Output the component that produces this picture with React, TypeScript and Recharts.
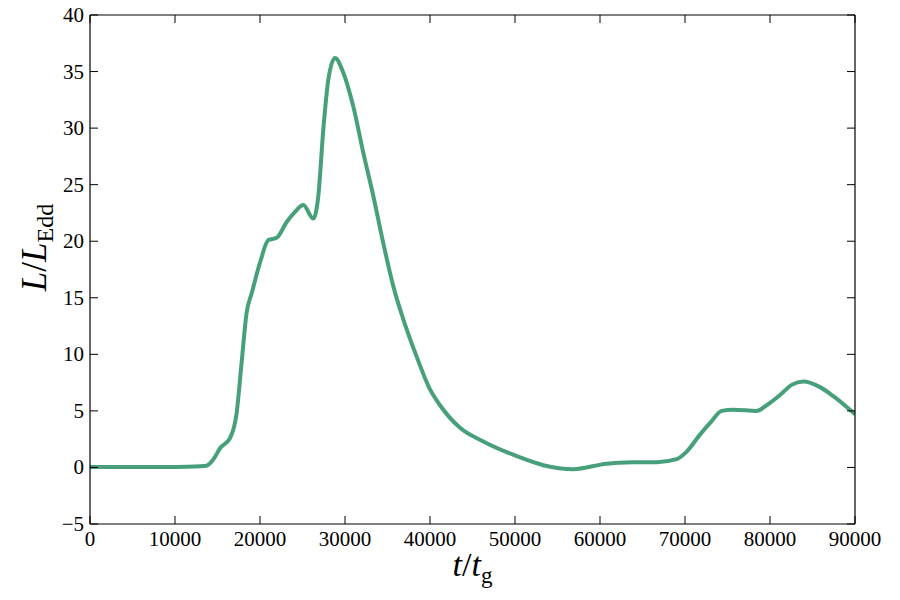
import React from 'react';
import { LineChart, Line, XAxis, YAxis, Label } from 'recharts';

// time in t_g, luminosity in L_Edd
const tValues = [
  0, 5000, 10000, 13000, 13700, 14500, 15300, 16470, 17250, 17840, 18430, 19020, 20000,
  20980, 21960, 23140, 24120, 25100, 26270, 26860, 27450, 28040, 28820, 29800, 30980,
  32160, 33330, 34510, 35690, 36860, 38430, 40000, 41180, 43530, 46270, 50200, 53330,
  56860, 60780, 63920, 66670, 69020, 70200, 71760, 73140, 74310, 75690, 78430, 79610,
  81180, 82550, 83920, 85880, 87450, 90000,
];
const lValues = [
  0.05, 0.05, 0.05, 0.1, 0.15, 0.7, 1.7, 2.6, 4.8, 9.3, 13.7, 15.4, 18.1,
  20.1, 20.3, 21.7, 22.6, 23.2, 22.0, 24.0, 29.9, 34.3, 36.2, 34.9, 31.9,
  27.8, 24.0, 19.8, 16.0, 13.1, 9.8, 6.9, 5.5, 3.5, 2.3, 1.0, 0.2,
  -0.15, 0.33, 0.45, 0.47, 0.74, 1.4, 2.9, 4.1, 5.0, 5.1, 5.0, 5.5,
  6.4, 7.3, 7.6, 7.1, 6.3, 4.7,
];
const xTicks = [0, 10000, 20000, 30000, 40000, 50000, 60000, 70000, 80000, 90000];
const yTicks = [-5, 0, 5, 10, 15, 20, 25, 30, 35, 40];

const data = tValues.map((t, i) => ({ t, L: lValues[i] }));

const FONT = '"Liberation Serif", "DejaVu Serif", serif';
const TICK = 8;

const fmt = (v: number) => (v < 0 ? `\u2212${Math.abs(v)}` : `${v}`);

const LeftTick = ({ x, y, payload }: any) => (
  <g>
    <line x1={x} y1={y} x2={x + TICK} y2={y} stroke="#000" strokeWidth={1} />
    <text x={x - 6} y={y + 7} textAnchor="end" fontFamily={FONT} fontSize={21} fill="#000">
      {fmt(payload.value)}
    </text>
  </g>
);

const RightTick = ({ x, y }: any) => (
  <line x1={x - TICK} y1={y} x2={x} y2={y} stroke="#000" strokeWidth={1} />
);

const BottomTick = ({ x, y, payload }: any) => (
  <g>
    <line x1={x} y1={y - TICK} x2={x} y2={y} stroke="#000" strokeWidth={1} />
    <text x={x} y={y + 22} textAnchor="middle" fontFamily={FONT} fontSize={21} fill="#000">
      {fmt(payload.value)}
    </text>
  </g>
);

const TopTick = ({ x, y }: any) => (
  <line x1={x} y1={y} x2={x} y2={y + TICK} stroke="#000" strokeWidth={1} />
);

const YLabel = ({ viewBox }: any) => {
  const cx = viewBox.x + 46;
  const cy = viewBox.y + viewBox.height / 2 - 22;
  return (
    <text
      x={cx}
      y={cy}
      transform={`rotate(-90 ${cx} ${cy})`}
      textAnchor="middle"
      fontFamily={FONT}
      fontSize={35}
      fill="#000"
    >
      <tspan fontStyle="italic">L</tspan>
      <tspan>/</tspan>
      <tspan fontStyle="italic">L</tspan>
      <tspan fontSize={24} dy={7}>Edd</tspan>
    </text>
  );
};

const XLabel = ({ viewBox }: any) => {
  const cx = viewBox.x + viewBox.width / 2;
  const cy = viewBox.y + 52;
  return (
    <text x={cx} y={cy} textAnchor="middle" fontFamily={FONT} fontSize={34} fill="#000">
      <tspan fontStyle="italic">t</tspan>
      <tspan>/</tspan>
      <tspan fontStyle="italic">t</tspan>
      <tspan fontSize={23} dy={7}>g</tspan>
    </text>
  );
};

export default function App() {
  return (
    <div style={{ position: 'absolute', left: 0, top: 0, background: '#fff' }}>
      <LineChart width={900} height={600} data={data} margin={{ top: 0, right: 0, bottom: 0, left: 0 }}>
        <XAxis
          dataKey="t"
          type="number"
          domain={[0, 90000]}
          ticks={xTicks}
          allowDataOverflow
          height={76}
          tickSize={0}
          tickMargin={0}
          tickLine={false}
          tick={<BottomTick />}
          axisLine={{ stroke: '#000', strokeWidth: 1.2 }}
          interval={0}
        >
          <Label content={<XLabel />} />
        </XAxis>
        <XAxis
          xAxisId="top"
          orientation="top"
          dataKey="t"
          type="number"
          domain={[0, 90000]}
          ticks={xTicks}
          allowDataOverflow
          height={15}
          tickSize={0}
          tickMargin={0}
          tickLine={false}
          tick={<TopTick />}
          axisLine={{ stroke: '#000', strokeWidth: 1.2 }}
          interval={0}
        />
        <YAxis
          type="number"
          domain={[-5, 40]}
          ticks={yTicks}
          allowDataOverflow
          width={90}
          tickSize={0}
          tickMargin={0}
          tickLine={false}
          tick={<LeftTick />}
          axisLine={{ stroke: '#000', strokeWidth: 1.2 }}
          interval={0}
        >
          <Label content={<YLabel />} />
        </YAxis>
        <YAxis
          yAxisId="right"
          orientation="right"
          type="number"
          domain={[-5, 40]}
          ticks={yTicks}
          allowDataOverflow
          width={45}
          tickSize={0}
          tickMargin={0}
          tickLine={false}
          tick={<RightTick />}
          axisLine={{ stroke: '#000', strokeWidth: 1.2 }}
          interval={0}
        />
        <Line
          type="monotone"
          dataKey="L"
          stroke="#47a07a"
          strokeWidth={4}
          dot={false}
          isAnimationActive={false}
        />
      </LineChart>
    </div>
  );
}
